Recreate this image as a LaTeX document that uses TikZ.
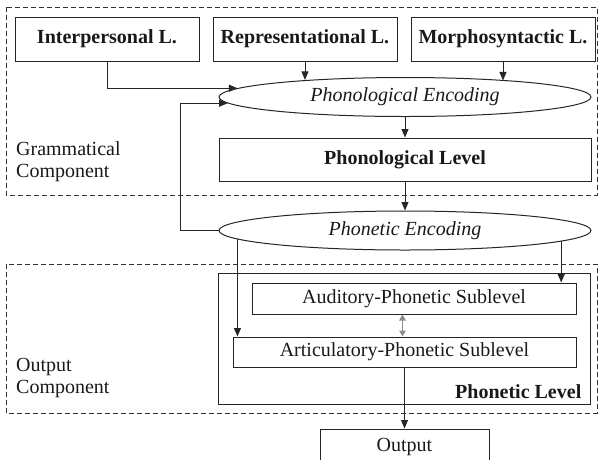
\documentclass[tikz,border=0pt]{standalone}
\usepackage{fontspec}
\setmainfont{Liberation Serif}
\usetikzlibrary{shapes.geometric,arrows.meta}
\begin{document}
\begin{tikzpicture}[x=1pt,y=-1pt,
  every node/.style={inner sep=0pt, text=black!90},
  ln/.style={line width=1pt, draw=black!85},
  box/.style={ln, draw, rectangle, font=\fontsize{20}{22}\selectfont},
  bbox/.style={box, font=\fontsize{20}{22}\selectfont\bfseries},
  ell/.style={ln, draw, ellipse, minimum width=372pt, minimum height=39pt, font=\fontsize{20}{22}\selectfont\itshape},
  dashbox/.style={line width=1pt, draw=black!80, dash pattern=on 5pt off 3pt},
  lab/.style={align=left, anchor=north west, font=\fontsize{20}{22.5}\selectfont},
  arr/.style={ln, -{Triangle[length=8.5pt,width=7pt]}},
  garr/.style={line width=1.2pt, draw=black!45, {Triangle[length=6pt,width=6.5pt]}-{Triangle[length=6pt,width=6.5pt]}}
]
\useasboundingbox (0,0) rectangle (598,459);
% dashed component frames
\draw[dashbox] (6,7) rectangle (597,195);
\draw[dashbox] (6,264) rectangle (597,413);
\node[lab] (gclab) at (16,141) {Grammatical\\Component};
\node[lab] (oclab) at (16,358) {Output\\Component};
% top boxes
\node[bbox, minimum width=184pt, minimum height=44pt] (ip) at (107,39) {Interpersonal L.};
\node[bbox, minimum width=184pt, minimum height=44pt] (rep) at (305,39) {Representational L.};
\node[bbox, minimum width=184pt, minimum height=44pt] (mor) at (503,39) {Morphosyntactic L.};
% phonological encoding
\node[ell] (pe) at (405,97) {Phonological Encoding};
\node[bbox, minimum width=372pt, minimum height=43pt] (pl) at (405,159.5) {Phonological Level};
\node[ell] (phe) at (405,230.5) {Phonetic Encoding};
% phonetic level
\node[box, minimum width=372pt, minimum height=131pt] (phl) at (404,338.5) {};
\node[anchor=south east, font=\fontsize{20}{22}\selectfont\bfseries] (phltxt) at ([xshift=-9pt,yshift=6pt]phl.south east) {Phonetic Level};
\node[box, minimum width=324pt, minimum height=31pt] (aud) at (414,298.5) {Auditory-Phonetic Sublevel};
\node[box, minimum width=343pt, minimum height=30pt] (art) at (404.5,352) {Articulatory-Phonetic Sublevel};
\node[box, minimum width=169pt, minimum height=36pt] (out) at (404.5,447) {Output};
% connectors
\draw[arr] (ip.south) |- (pe.177.7);
\draw[arr] (rep.south) -- (rep.south |- pe.170.7);
\draw[arr] (mor.south) -- (mor.south |- pe.9.5);
\draw[arr] (pe.south) -- (pl.north);
\draw[arr] (pl.south) -- (phe.north);
\coordinate (fb) at (180,230.5);
\draw[arr] (phe.west) -- (fb) |- (pe.182.6);
\draw[arr] (phe.183.4) -- (phe.183.4 |- art.north);
\draw[arr] (phe.356.2) -- (phe.356.2 |- aud.north);
\draw[garr] ([xshift=-2pt]aud.south -| art.north) -- ([xshift=-2pt]art.north);
\draw[arr] (art.south) -- (out.north);
\end{tikzpicture}
\end{document}
